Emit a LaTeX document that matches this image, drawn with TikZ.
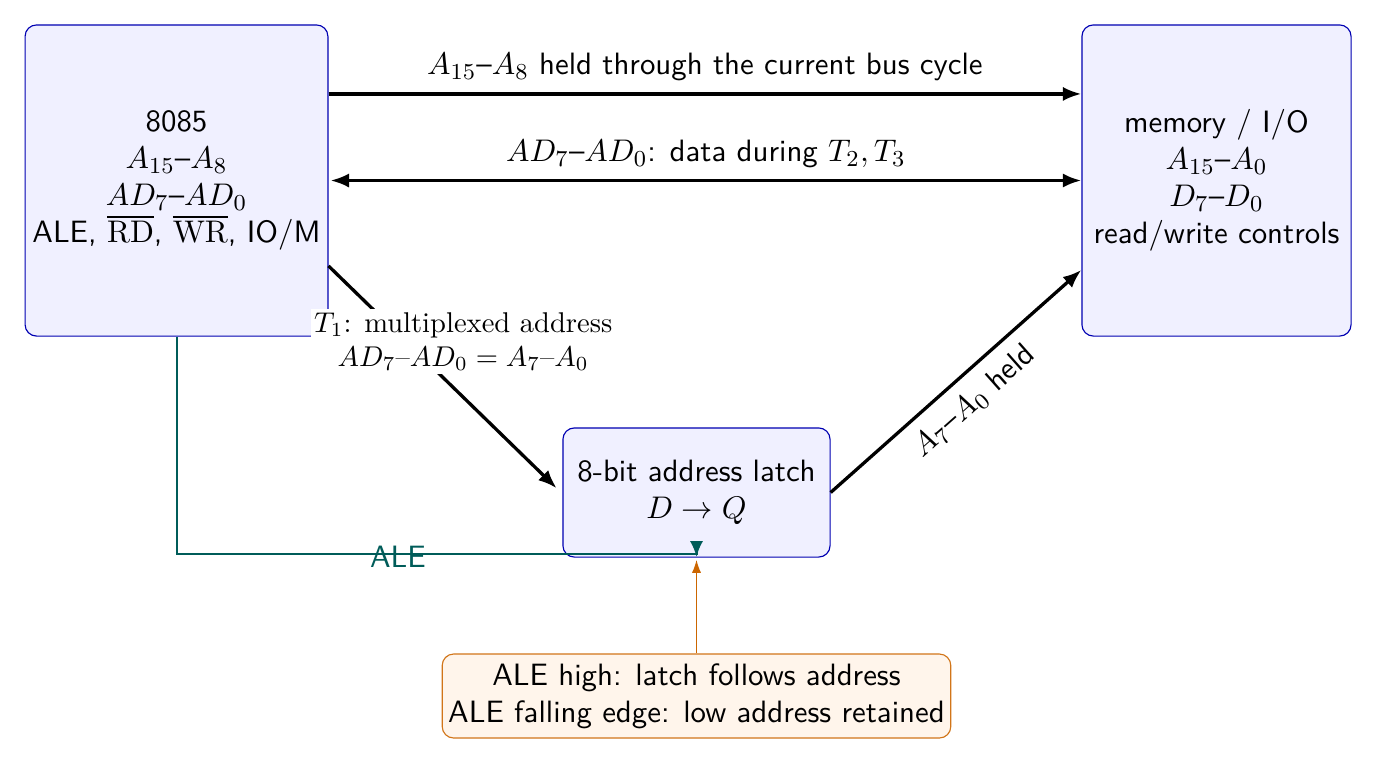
\documentclass[tikz,border=0pt]{standalone}
\usepackage{amsmath}
\usetikzlibrary{arrows.meta}
\definecolor{tealline}{rgb}{0,0.36,0.35}
\definecolor{orline}{rgb}{0.8,0.4,0}
\newcommand{\sfbig}{\sffamily\fontsize{10.8pt}{13pt}\selectfont}
\tikzset{
  blk/.style={draw=blue!70!black, fill=blue!6, rounded corners=4pt, align=center, font=\sfbig, inner sep=2pt},
  notebox/.style={draw=orline!90, fill=orange!8, rounded corners=4pt, align=center, font=\sfbig, inner sep=2pt},
  bus/.style={line width=1.15pt, -{Latex[length=6.5pt,width=5pt]}},
  bibus/.style={line width=1.15pt, {Latex[length=6.5pt,width=5pt]}-{Latex[length=6.5pt,width=5pt]}},
  aleline/.style={tealline, line width=0.7pt, -{Latex[length=5.5pt,width=4.6pt]}},
  noteline/.style={orline, line width=0.4pt, -{Latex[length=4.5pt,width=3.2pt]}},
  lbl/.style={font=\sfbig}
}
\begin{document}
\begin{tikzpicture}[x=0.35pt, y=-0.35pt]
\useasboundingbox (0,0) rectangle (1376,763);

\node[blk, minimum width=106pt, minimum height=108.9pt] (cpu) at (176.5,180.5)
  {8085\\ $A_{15}$--$A_8$\\ $AD_7$--$AD_0$\\ ALE, $\overline{\mathrm{RD}}$, $\overline{\mathrm{WR}}$, IO/M};
\node[blk, minimum width=94.2pt, minimum height=108.9pt] (mem) at (1216.5,180.5)
  {memory / I/O\\ $A_{15}$--$A_0$\\ $D_7$--$D_0$\\ read/write controls};
\node[blk, minimum width=93.5pt, minimum height=45.2pt] (latch) at (696.5,492.5)
  {8-bit address latch\\ $D \rightarrow Q$};
\node[notebox, minimum width=178pt, minimum height=29.4pt] (note) at (696.5,696)
  {ALE high: latch follows address\\ ALE falling edge: low address retained};

\draw[bus] ([yshift=30.3pt]cpu.east) -- node[lbl, above, yshift=0.5pt] {$A_{15}$--$A_8$ held through the current bus cycle} ([yshift=30.3pt]mem.west);
\draw[bibus] ([xshift=0.7pt]cpu.east) -- node[lbl, above, yshift=0.5pt] {$AD_7$--$AD_0$: data during $T_2, T_3$} (mem.west);

\draw[bus] ([yshift=-29.9pt]cpu.east) -- node[pos=0.34, xshift=20pt, fill=white, inner sep=1pt, align=center, font=\rmfamily] {$T_1$: multiplexed address\\ $AD_7$--$AD_0 = A_7$--$A_0$} ([xshift=-2pt,yshift=1.5pt]latch.west);
\draw[bus] (latch.east) -- node[lbl, sloped, below, yshift=-1pt] {$A_7$--$A_0$ held} ([yshift=-31.3pt]mem.west);

\coordinate (alec) at ([yshift=1.4pt]latch.south);
\draw[aleline] (cpu.south) |- node[pos=0.713, text=tealline, font=\sfbig, yshift=-1pt] {ALE} (alec) -- ([yshift=0.3pt]latch.south);
\draw[noteline] (note.north) -- ([yshift=-0.8pt]latch.south);
\end{tikzpicture}
\end{document}
